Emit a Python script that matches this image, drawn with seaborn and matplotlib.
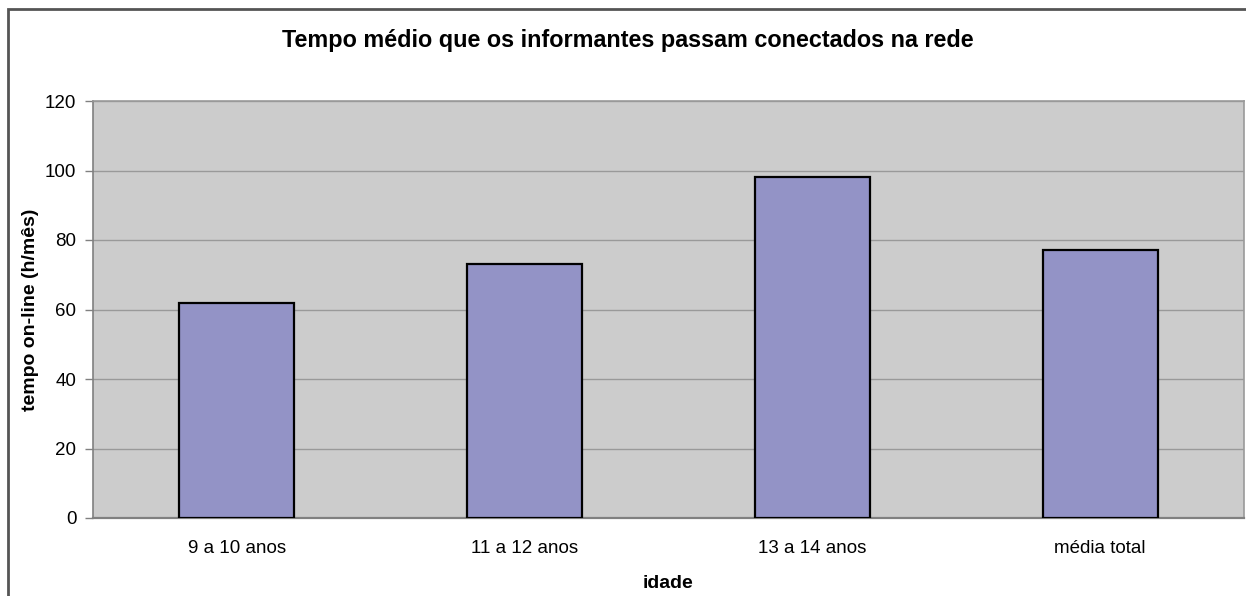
import matplotlib
matplotlib.use("Agg")
import matplotlib.pyplot as plt
import seaborn as sns
import numpy as np
from matplotlib.patches import Rectangle

# Datos
categorias = ["9 a 10 anos", "11 a 12 anos", "13 a 14 anos", "média total"]
tempo_online = [62, 73, 98, 77]
yticks = [0, 20, 40, 60, 80, 100, 120]

sns.set_style("white")
plt.rcParams['font.family'] = ['Liberation Sans', 'DejaVu Sans']
plt.rcParams['text.color'] = 'black'
plt.rcParams['axes.labelcolor'] = 'black'
plt.rcParams['xtick.labelcolor'] = 'black'
plt.rcParams['ytick.labelcolor'] = 'black'

fig = plt.figure(figsize=(12.46, 5.96), dpi=100)
ax = fig.add_axes([93 / 1246, 1 - 518 / 596, (1244 - 93) / 1246, (518 - 101) / 596])
ax.set_facecolor("#CCCCCC")

sns.barplot(x=categorias, y=tempo_online, color="#9393C6", saturation=1,
            edgecolor="black", linewidth=1.6, width=0.4, ax=ax, zorder=3)

ax.set_ylim(0, 120)
ax.set_xlim(-0.5, 3.5)
ax.set_yticks(yticks)
ax.yaxis.grid(True, color="#999999", linewidth=1, zorder=0)
ax.set_axisbelow(True)

ax.set_xticks(np.arange(-0.5, 4.0, 1.0), minor=True)
ax.tick_params(axis="x", which="major", length=0, labelsize=13.5, pad=16)
ax.tick_params(axis="x", which="minor", length=6, color="#808080", width=1, direction="out")
ax.tick_params(axis="y", length=6, color="#808080", width=1, labelsize=13.5, pad=6, left=True)

for s in ax.spines.values():
    s.set_color("#999999")
    s.set_linewidth(1.2)
ax.spines["left"].set_color("#808080")
ax.spines["bottom"].set_color("#808080")
ax.spines["bottom"].set_linewidth(1.6)

ax.set_xlabel("idade", fontsize=14, fontweight="bold", labelpad=13)
ax.set_ylabel("tempo on-line (h/mês)", fontsize=14, fontweight="bold", labelpad=4)
fig.text(628 / 1246, 1 - 41 / 596, "Tempo médio que os informantes passam conectados na rede",
         ha="center", va="center", fontsize=16.8, fontweight="bold")

# Borda do gráfico
fig.patches.append(Rectangle((8 / 1246, -0.05), 1.1, 1 - 9 / 596 + 0.05, transform=fig.transFigure,
                             fill=False, edgecolor="#555555", linewidth=2))

fig.savefig("out.png", dpi=100)
